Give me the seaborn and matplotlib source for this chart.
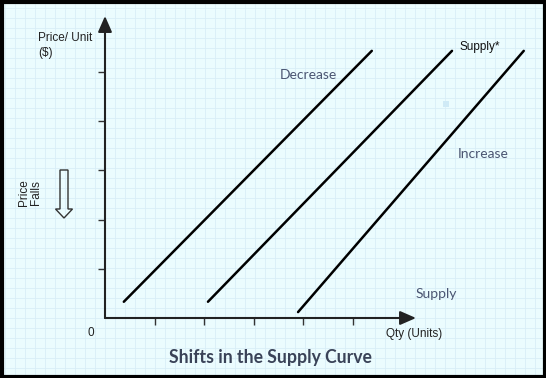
import matplotlib
matplotlib.use("Agg")
import matplotlib.pyplot as plt
import numpy as np
import pandas as pd
import seaborn as sns
from matplotlib.patches import FancyArrow, Rectangle

# ---- data (quantity / price units) ----
curves = ["Decrease", "Supply*", "Supply"]
x_start = [0.38, 2.08, 3.90]
x_end = [5.39, 7.01, 8.46]
y_start = [0.33, 0.33, 0.12]
y_end = [5.43, 5.43, 5.43]
x_ticks = [1, 2, 3, 4, 5]
y_ticks = [1, 2, 3, 4, 5]

rows = []
for c, xs, xe, ys, ye in zip(curves, x_start, x_end, y_start, y_end):
    rows.append({"curve": c, "qty": xs, "price": ys})
    rows.append({"curve": c, "qty": xe, "price": ye})
df = pd.DataFrame(rows)

sns.set_theme(style="white")
plt.rcParams["font.family"] = ["Liberation Sans", "DejaVu Sans"]

W, H = 546, 378
fig = plt.figure(figsize=(W / 100, H / 100), dpi=100)
bgc = "#ebfcfe"
fig.patch.set_facecolor(bgc)

# background grid axes
bg = fig.add_axes([0, 0, 1, 1], zorder=0)
bg.set_xlim(0, W)
bg.set_ylim(H, 0)
bg.set_facecolor(bgc)
bg.set_xticks(np.arange(5, W, 10))
bg.set_yticks(np.arange(8, H, 10))
bg.grid(True, color="#d9eef8", linewidth=0.6)
bg.tick_params(length=0, labelbottom=False, labelleft=False)
for s in bg.spines.values():
    s.set_visible(False)

# main axes in pixel placement
L, R, T, B = 105, 535, 18, 318
ax = fig.add_axes([L / W, 1 - B / H, (R - L) / W, (B - T) / H], zorder=2)
ax.patch.set_alpha(0)
ux = 49.5
uy = 49.2
ax.set_xlim(0, (R - L) / ux)
ax.set_ylim(0, (B - T) / uy)

sns.lineplot(data=df, x="qty", y="price", hue="curve",
             palette=["black"] * 3, legend=False, linewidth=1.8,
             ax=ax, clip_on=False)

for s in ax.spines.values():
    s.set_visible(False)
ax.set_xticks(x_ticks)
ax.set_yticks(y_ticks)
ax.tick_params(axis="x", direction="out", length=5, width=1, color="#333333",
               labelbottom=False, bottom=True)
ax.tick_params(axis="y", direction="out", length=5, width=1, color="#333333",
               labelleft=False, left=True)
ax.set_xlabel("")
ax.set_ylabel("")

# axes with arrows
xmax_axis = (416 - L) / ux
ymax_axis = (B - 16) / uy
ax.annotate("", xy=(xmax_axis, 0), xytext=(0, 0),
            arrowprops=dict(arrowstyle="-|>,head_length=0.8,head_width=0.35",
                            color="#222222", lw=1.5, shrinkA=0, shrinkB=0),
            annotation_clip=False)
ax.annotate("", xy=(0, ymax_axis), xytext=(0, 0),
            arrowprops=dict(arrowstyle="-|>,head_length=0.8,head_width=0.35",
                            color="#222222", lw=1.5, shrinkA=0, shrinkB=0),
            annotation_clip=False)

# overlay axes for texts in pixel coords
ov = fig.add_axes([0, 0, 1, 1], zorder=3)
ov.set_xlim(0, W)
ov.set_ylim(H, 0)
ov.axis("off")

lato_col = "#4a5572"
fs_small = 8.5
ov.text(38, 45.5, "Price/ Unit\n($)", fontsize=fs_small, color="#222222",
        ha="left", va="center", linespacing=1.3)
ov.text(308, 75, "Decrease", fontsize=10, family="Lato", color=lato_col,
        ha="center", va="center")
ov.text(459, 47, "Supply*", fontsize=fs_small, color="#111111",
        ha="left", va="center")
ov.text(483, 154, "Increase", fontsize=10, family="Lato", color=lato_col,
        ha="center", va="center")
ov.text(436, 294, "Supply", fontsize=10, family="Lato", color=lato_col,
        ha="center", va="center")
ov.text(414, 334, "Qty (Units)", fontsize=fs_small, color="#222222",
        ha="center", va="center")
ov.text(91, 333, "0", fontsize=fs_small, color="#222222", ha="center", va="center")
ov.text(30, 193, "Price\nFalls", fontsize=fs_small, color="#222222",
        ha="center", va="center", rotation=90, linespacing=1.05)
ov.text(270, 357, "Shifts in the Supply Curve", fontsize=12.7, family="Lato",
        fontweight="bold", color="#3a4358", ha="center", va="center")

# hollow down arrow
arr = FancyArrow(64, 170, 0, 48, width=8, head_width=17, head_length=9,
                 length_includes_head=True, facecolor="none",
                 edgecolor="#333333", linewidth=1.0)
ov.add_patch(arr)

# small light square
ov.add_patch(Rectangle((443, 101), 6, 6, facecolor="#cfeaf6", edgecolor="none"))

# black border
ov.add_patch(Rectangle((1.5, 1.5), W - 3, H - 3, facecolor="none",
                       edgecolor="black", linewidth=3))

fig.savefig("out.png", dpi=100, facecolor=bgc)
